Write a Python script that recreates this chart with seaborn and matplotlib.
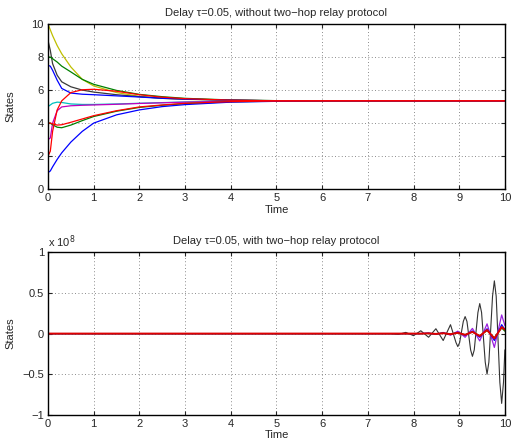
import matplotlib
matplotlib.use("Agg")
import matplotlib.pyplot as plt
import seaborn as sns

# ── top panel: without two-hop relay ────────────────────────────────────────
T_TOP = [0, 0.05, 0.1, 0.2, 0.3, 0.5, 0.75, 1, 1.5, 2, 2.5, 3, 4, 5, 6, 8, 10]

yellow = [10, 9.65, 9.3, 8.7, 8.2, 7.4, 6.65, 6.25, 5.85, 5.62, 5.5, 5.44, 5.38, 5.35, 5.35, 5.35, 5.35]
black = [9, 8.4, 7.6, 6.9, 6.5, 6.2, 6.0, 5.88, 5.72, 5.6, 5.51, 5.46, 5.39, 5.36, 5.35, 5.35, 5.35]
green = [8, 8.0, 7.9, 7.7, 7.45, 7.1, 6.65, 6.35, 5.98, 5.74, 5.6, 5.5, 5.4, 5.36, 5.35, 5.35, 5.35]
blue = [7.5, 7.45, 7.2, 6.6, 6.1, 5.82, 5.75, 5.72, 5.65, 5.58, 5.5, 5.45, 5.39, 5.35, 5.35, 5.35, 5.35]
cyan = [5, 5.1, 5.2, 5.27, 5.25, 5.16, 5.13, 5.13, 5.16, 5.2, 5.24, 5.28, 5.32, 5.34, 5.35, 5.35, 5.35]
magenta = [3, 3.1, 4.0, 4.75, 4.98, 5.05, 5.08, 5.1, 5.14, 5.19, 5.23, 5.27, 5.32, 5.34, 5.35, 5.35, 5.35]
green2 = [4, 4.0, 3.9, 3.75, 3.72, 3.88, 4.15, 4.4, 4.72, 4.95, 5.08, 5.18, 5.29, 5.33, 5.35, 5.35, 5.35]
blue2 = [1, 1.1, 1.35, 1.8, 2.2, 2.85, 3.5, 4.0, 4.5, 4.8, 5.0, 5.12, 5.27, 5.32, 5.35, 5.35, 5.35]
red2 = [4, 4.0, 3.95, 3.88, 3.9, 4.05, 4.25, 4.45, 4.75, 4.98, 5.1, 5.2, 5.3, 5.34, 5.35, 5.35, 5.35]
red = [2, 2.3, 3.5, 4.8, 5.35, 5.85, 6.02, 6.05, 5.93, 5.72, 5.57, 5.48, 5.39, 5.35, 5.35, 5.35, 5.35]

# ── bottom panel: with two-hop relay, values in units of 1e8 ────────────────
T_BLACK = [0, 7.5, 7.67, 7.83, 8.0, 8.16, 8.33, 8.49, 8.65, 8.81, 8.93, 8.97, 9.01,
           9.09, 9.13, 9.17, 9.25, 9.29, 9.33, 9.41, 9.45, 9.49, 9.57, 9.61, 9.65,
           9.73, 9.77, 9.81, 9.89, 9.93, 9.97, 10.0]
osc_black = [0, 0, -0.01, 0.015, -0.025, 0.035, -0.045, 0.06, -0.085, 0.11, -0.11, -0.16, -0.11,
             0.15, 0.21, 0.15, -0.2, -0.28, -0.2, 0.26, 0.37, 0.26, -0.35, -0.5, -0.35,
             0.46, 0.65, 0.46, -0.6, -0.86, -0.6, -0.2]

T_BOT = [0, 7.5, 7.67, 7.83, 8.0, 8.16, 8.33, 8.49, 8.65, 8.81, 8.97,
         9.13, 9.29, 9.45, 9.61, 9.77, 9.93, 10.0]
osc_purple = [0, 0, 0, 0, 0, 0, 0.007, -0.01, 0.014, -0.02, 0.03,
              -0.045, 0.064, -0.09, 0.12, -0.17, 0.23, 0.1]
osc_blue = [0, 0, 0, 0, 0, 0, 0.004, -0.005, 0.007, -0.01, 0.015,
            -0.022, 0.032, -0.045, 0.06, -0.085, 0.11, 0.05]
osc_green = [0, 0, 0, 0, 0, 0, 0.002, -0.003, 0.004, -0.006, 0.009,
             -0.013, 0.019, -0.027, 0.038, -0.052, 0.07, 0.03]
osc_red = [0, 0, 0, 0, 0, 0, 0.003, -0.004, 0.005, -0.007, 0.01,
           -0.015, 0.022, -0.03, 0.045, -0.06, 0.08, 0.05]

sns.set_style("white")
plt.rcParams["font.family"] = ["Liberation Sans", "DejaVu Sans"]
plt.rcParams["font.size"] = 8

fig = plt.figure(figsize=(5.11, 4.46), dpi=100)
ax1 = fig.add_axes([0.094, 0.576, 0.894, 0.370])
ax2 = fig.add_axes([0.094, 0.070, 0.894, 0.364])

top_series = [
    (yellow, "#bfbf00"), (black, "#3a3a3a"), (green, "#008000"), (blue, "#0000ff"),
    (cyan, "#00bfbf"), (magenta, "#bf00bf"), (green2, "#008000"), (blue2, "#0000ff"),
    (red2, "#ff0000"), (red, "#ff0000"),
]
for vals, col in top_series:
    sns.lineplot(x=T_TOP, y=vals, color=col, lw=0.9, ax=ax1)

sns.lineplot(x=T_BLACK, y=osc_black, color="#333333", lw=0.8, ax=ax2)
bot_series = [
    (osc_purple, "#9a20e0", 0.9), (osc_blue, "#0000ff", 0.9),
    (osc_green, "#008000", 0.9), (osc_red, "#e00000", 1.4),
]
for vals, col, lw in bot_series:
    sns.lineplot(x=T_BOT, y=vals, color=col, lw=lw, ax=ax2)

for ax in (ax1, ax2):
    ax.set_xlim(0, 10)
    ax.set_xticks(range(0, 11))
    ax.grid(True, linestyle=(0, (1, 3)), color="0.4", lw=0.6)
    ax.tick_params(direction="in", length=3, labelsize=8, top=True, right=True,
                   bottom=True, left=True, labeltop=False, labelright=False, pad=3)
    for sp in ax.spines.values():
        sp.set_visible(True)
        sp.set_color("black")
        sp.set_linewidth(1.0)
    ax.set_xlabel("Time", fontsize=8, labelpad=1)
    ax.set_ylabel("States", fontsize=8)
    ax.yaxis.set_label_coords(-0.072, 0.5)

ax1.set_ylim(0, 10)
ax1.set_yticks([0, 2, 4, 6, 8, 10])
ax1.set_title("Delay \u03c4=0.05, without two\u2212hop relay protocol", fontsize=8, pad=6)

ax2.set_ylim(-1, 1)
ax2.set_yticks([-1, -0.5, 0, 0.5, 1])
ax2.set_yticklabels(["\u22121", "\u22120.5", "0", "0.5", "1"])
ax2.set_title("Delay \u03c4=0.05, with two\u2212hop relay protocol", fontsize=8, pad=6)
ax2.text(0, 1.015, "x 10$^8$", transform=ax2.transAxes, fontsize=8,
         ha="left", va="bottom")

fig.savefig("out.png", dpi=100)
plt.close(fig)
